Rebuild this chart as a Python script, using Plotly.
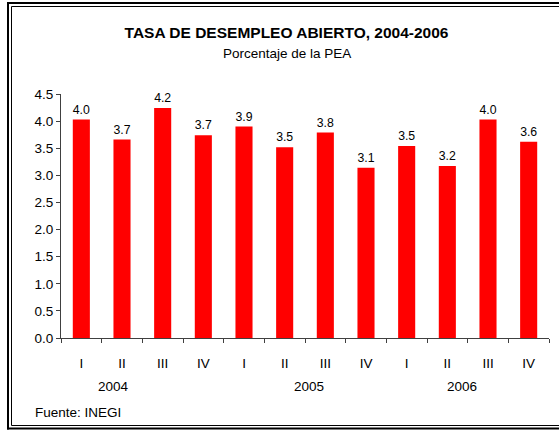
import plotly.graph_objects as go

quarters = ["I", "II", "III", "IV", "I", "II", "III", "IV", "I", "II", "III", "IV"]
years = ["2004", "2005", "2006"]
values = [4.03, 3.66, 4.24, 3.74, 3.90, 3.52, 3.79, 3.14, 3.54, 3.17, 4.03, 3.62]
yticks = [0.0, 0.5, 1.0, 1.5, 2.0, 2.5, 3.0, 3.5, 4.0, 4.5]

W, H = 559, 431
L, R, T, B = 61, 10, 94, 93
PW = W - L - R
PH = H - T - B


def px(x):
    return (x - L) / PW


def py(y):
    return (H - B - y) / PH


FONT = "Liberation Sans, Arial, sans-serif"
FS = 13.5
xs = list(range(len(values)))

fig = go.Figure(go.Bar(
    x=xs, y=values,
    marker=dict(color="#FF0000", line=dict(width=0)),
    width=0.42,
    text=[f"{v:.1f}" for v in values],
    textposition="outside",
    textfont=dict(family=FONT, size=FS, color="#000000"),
    cliponaxis=False,
    hoverinfo="skip",
))

fig.update_layout(
    width=W, height=H,
    margin=dict(l=L, r=R, t=T, b=B),
    paper_bgcolor="white", plot_bgcolor="white",
    showlegend=False,
    font=dict(family=FONT, size=FS, color="#000000"),
    title=dict(text="<b>TASA DE DESEMPLEO ABIERTO, 2004-2006</b>",
               x=286.5 / W, xanchor="center", xref="container",
               y=1 - 33 / H, yanchor="middle", yref="container",
               font=dict(family=FONT, size=15.5, color="#000000")),
)

fig.update_xaxes(
    range=[-0.5, 11.5],
    tickmode="array", tickvals=xs, ticktext=quarters,
    ticks="", showgrid=False, zeroline=False,
    showline=True, linecolor="#404040", linewidth=1,
    ticklabelstandoff=13,
    tickfont=dict(family=FONT, size=FS, color="#000000"),
    minor=dict(tickmode="array", tickvals=[i - 0.5 for i in range(len(values) + 1)],
               ticks="outside", ticklen=4, tickcolor="#404040", tickwidth=1, showgrid=False),
)
fig.update_yaxes(
    range=[0, 4.5],
    tickmode="array", tickvals=yticks, ticktext=[f"{v:.1f}" for v in yticks],
    ticks="outside", ticklen=4, tickcolor="#404040",
    showgrid=False, zeroline=False,
    showline=True, linecolor="#404040", linewidth=1,
    tickfont=dict(family=FONT, size=FS, color="#000000"),
)

annotations = [
    dict(text="Porcentaje de la PEA", xref="paper", yref="paper",
         x=px(287), y=py(53), xanchor="center", yanchor="middle", showarrow=False,
         font=dict(family=FONT, size=FS, color="#000000")),
    dict(text="Fuente: INEGI", xref="paper", yref="paper",
         x=px(33), y=py(412), xanchor="left", yanchor="middle", showarrow=False,
         font=dict(family=FONT, size=FS, color="#000000")),
]
year_x = [0.78, 5.6, 9.35]
for yr, xv in zip(years, year_x):
    annotations.append(dict(text=yr, xref="x", yref="paper", x=xv, y=py(386),
                            xanchor="center", yanchor="middle", showarrow=False,
                            font=dict(family=FONT, size=FS, color="#000000")))
fig.update_layout(annotations=annotations)


def hline(y, x0, x1, w):
    return dict(type="line", xref="paper", yref="paper", x0=px(x0), x1=px(x1),
                y0=py(y), y1=py(y), line=dict(color="#000000", width=w), layer="above")


def vline(x, y0, y1, w):
    return dict(type="line", xref="paper", yref="paper", x0=px(x), x1=px(x),
                y0=py(y0), y1=py(y1), line=dict(color="#000000", width=w), layer="above")


shapes = [
    hline(3, 7, 559, 2),
    hline(428.5, 7, 559, 2),
    vline(8, 2, 429.5, 2),
    hline(6.5, 11.5, 559, 1),
    hline(425.5, 11.5, 559, 1),
    vline(11.5, 6.5, 425.5, 1),
]
fig.update_layout(shapes=shapes)

fig.write_html("out.html", config={"displayModeBar": False, "staticPlot": True},
               post_script="document.body.style.margin='0';document.body.style.overflow='hidden';")
